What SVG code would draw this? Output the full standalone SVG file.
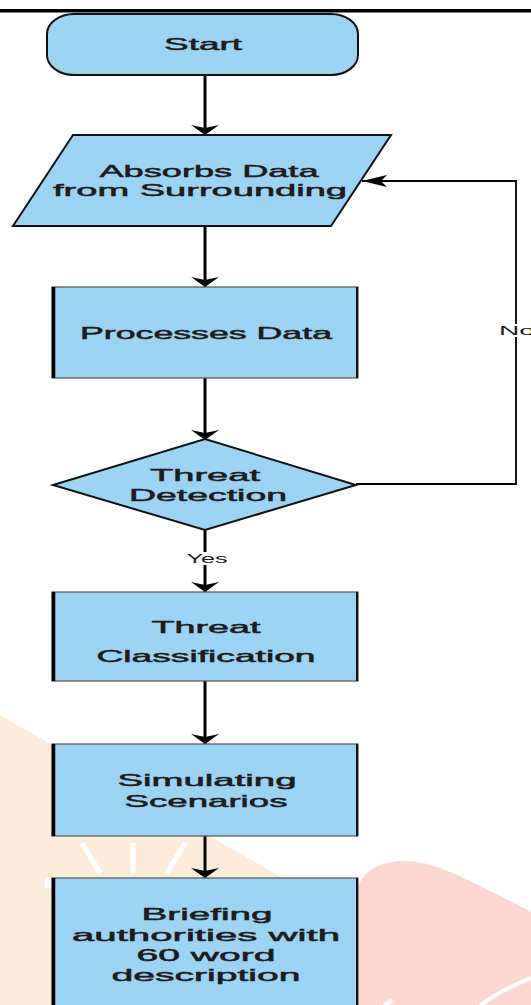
<svg xmlns="http://www.w3.org/2000/svg" width="531" height="1005" viewBox="0 0 531 1005">
  <style>
    .node { fill: #9cd2f2; stroke: #111; stroke-width: 2; }
    .box { fill: #9cd2f2; stroke: #555; stroke-width: 1.2; }
    .edgeL { stroke: #000; stroke-width: 3.5; }
    .edgeR { stroke: #111; stroke-width: 2; }
    .lbl { font-family: "Liberation Sans", Arial, sans-serif; font-size: 17px; fill: #1c1c1c; stroke: #1c1c1c; stroke-width: 0.5; text-anchor: middle; }
    .tag { font-family: "Liberation Sans", Arial, sans-serif; font-size: 13px; fill: #1c1c1c; stroke: #fff; stroke-width: 4; paint-order: stroke; }
    .flow { fill: none; stroke: #000; stroke-width: 3; }
    .loop { fill: none; stroke: #000; stroke-width: 1.8; }
  </style>
  <defs>
    <marker id="down" markerUnits="userSpaceOnUse" markerWidth="12" markerHeight="30" refX="10" refY="15" orient="auto" viewBox="0 0 12 30">
      <path d="M0,1 L10,15 L0,29 L3,15 Z" fill="#000"/>
    </marker>
    <marker id="left" markerUnits="userSpaceOnUse" markerWidth="26" markerHeight="14" refX="25" refY="7" orient="auto" viewBox="0 0 26 14">
      <path d="M0,1 L25,7 L0,13 L6,7 Z" fill="#000"/>
    </marker>
  </defs>

  <rect width="531" height="1005" fill="#fff"/>

  <!-- background logo shapes -->
  <g id="backdrop">
    <polygon points="0,715 300,888 300,1005 0,1005" fill="#fdebd9"/>
    <path d="M356,892 C362,870 380,861 405,861 C432,861 462,876 531,912 V1005 H356 Z" fill="#fdd8d2"/>
    <g stroke="#fff" stroke-width="5" fill="none">
      <line x1="82" y1="843" x2="100" y2="873"/>
      <line x1="133" y1="843" x2="133" y2="873"/>
      <line x1="185" y1="843" x2="167" y2="873"/>
      <path d="M480,1006 Q500,990 531,978" stroke-width="4"/>
      <path d="M384,1006 L392,1000" stroke-width="4"/>
    </g>
    <rect x="45" y="878" width="8" height="10" fill="#fff"/>
  </g>

  <!-- page rule -->
  <rect x="0" y="9" width="531" height="3.5" fill="#000"/>

  <g id="connectors">
    <line class="flow" x1="205" y1="76" x2="205" y2="135" marker-end="url(#down)"/>
    <line class="flow" x1="205" y1="226" x2="205" y2="287" marker-end="url(#down)"/>
    <line class="flow" x1="205" y1="378" x2="205" y2="440" marker-end="url(#down)"/>
    <line class="flow" x1="205" y1="530" x2="205" y2="592" marker-end="url(#down)"/>
    <line class="flow" x1="205" y1="681" x2="205" y2="744" marker-end="url(#down)"/>
    <line class="flow" x1="205" y1="836" x2="205" y2="878" marker-end="url(#down)"/>
    <path class="loop" d="M356,484 H516 V181 H362" marker-end="url(#left)"/>
    <text class="tag" x="207" y="563" text-anchor="middle" textLength="41" lengthAdjust="spacingAndGlyphs">Yes</text>
    <text class="tag" x="499" y="335" textLength="36" lengthAdjust="spacingAndGlyphs">No</text>
  </g>

  <g id="start">
    <rect class="node" x="47" y="14" width="311" height="61" rx="27" ry="20"/>
    <text class="lbl" x="203" y="50" textLength="78" lengthAdjust="spacingAndGlyphs">Start</text>
  </g>

  <g id="absorbs">
    <polygon class="node" points="73,135 391,135 331,226 13,226"/>
    <text class="lbl" x="209" y="177" textLength="219" lengthAdjust="spacingAndGlyphs">Absorbs Data</text>
    <text class="lbl" x="200" y="196" textLength="294" lengthAdjust="spacingAndGlyphs">from Surrounding</text>
  </g>

  <g id="processes">
    <rect class="box" x="52" y="287" width="306" height="91"/>
    <line class="edgeL" x1="53.5" y1="287" x2="53.5" y2="378"/>
    <line class="edgeR" x1="357" y1="287" x2="357" y2="378"/>
    <text class="lbl" x="206" y="339" textLength="252" lengthAdjust="spacingAndGlyphs">Processes Data</text>
  </g>

  <g id="detection">
    <polygon class="node" points="205,439 356,485 205,530 53,485"/>
    <text class="lbl" x="205" y="481" textLength="110" lengthAdjust="spacingAndGlyphs">Threat</text>
    <text class="lbl" x="208" y="501" textLength="158" lengthAdjust="spacingAndGlyphs">Detection</text>
  </g>

  <g id="classification">
    <rect class="box" x="52" y="592" width="306" height="89"/>
    <line class="edgeL" x1="53.5" y1="592" x2="53.5" y2="681"/>
    <line class="edgeR" x1="357" y1="592" x2="357" y2="681"/>
    <text class="lbl" x="206" y="633" textLength="109" lengthAdjust="spacingAndGlyphs">Threat</text>
    <text class="lbl" x="206" y="662" textLength="219" lengthAdjust="spacingAndGlyphs">Classification</text>
  </g>

  <g id="simulating">
    <rect class="box" x="52" y="744" width="306" height="92"/>
    <line class="edgeL" x1="53.5" y1="744" x2="53.5" y2="836"/>
    <line class="edgeR" x1="357" y1="744" x2="357" y2="836"/>
    <text class="lbl" x="207" y="786" textLength="179" lengthAdjust="spacingAndGlyphs">Simulating</text>
    <text class="lbl" x="206" y="807" textLength="163" lengthAdjust="spacingAndGlyphs">Scenarios</text>
  </g>

  <g id="briefing">
    <rect class="box" x="52" y="878" width="306" height="140"/>
    <line class="edgeL" x1="53.5" y1="878" x2="53.5" y2="1005"/>
    <line class="edgeR" x1="357" y1="878" x2="357" y2="1005"/>
    <text class="lbl" x="207" y="920" textLength="131" lengthAdjust="spacingAndGlyphs">Briefing</text>
    <text class="lbl" x="206" y="941" textLength="268" lengthAdjust="spacingAndGlyphs">authorities with</text>
    <text class="lbl" x="206" y="961" textLength="139" lengthAdjust="spacingAndGlyphs">60 word</text>
    <text class="lbl" x="206" y="981" textLength="189" lengthAdjust="spacingAndGlyphs">description</text>
  </g>
</svg>
